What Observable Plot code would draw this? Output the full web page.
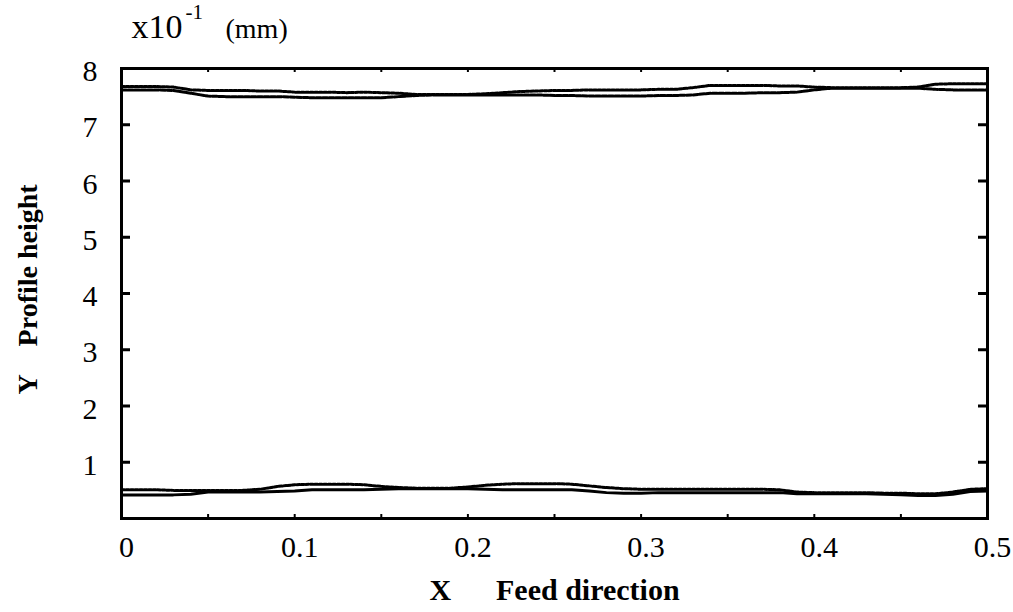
<!DOCTYPE html>
<html><head><meta charset="utf-8">
<script src="https://cdn.jsdelivr.net/npm/d3@7"></script>
<script src="https://cdn.jsdelivr.net/npm/@observablehq/plot@0.6"></script>
<style>
body{margin:0;background:#fff}
svg{background:#fff}
#chart svg text{font-family:"Liberation Serif","Times New Roman",serif !important;}
</style>
</head><body><div id="chart"></div>
<script>
// Feed direction sample positions (x, mm)
const xFeed = [0.00,0.01,0.02,0.03,0.04,0.05,0.06,0.07,0.08,0.09,
  0.10,0.11,0.12,0.13,0.14,0.15,0.16,0.17,0.18,0.19,
  0.20,0.21,0.22,0.23,0.24,0.25,0.26,0.27,0.28,0.29,
  0.30,0.31,0.32,0.33,0.34,0.35,0.36,0.37,0.38,0.39,
  0.40,0.41,0.42,0.43,0.44,0.45,0.46,0.47,0.48,0.49,0.50];

// Upper surface profiles (x10^-1 mm)
const topUpper = [7.68,7.68,7.68,7.67,7.62,7.61,7.61,7.61,7.60,7.60,
  7.58,7.58,7.58,7.57,7.58,7.57,7.56,7.54,7.54,7.54,
  7.54,7.55,7.57,7.59,7.60,7.61,7.61,7.62,7.62,7.62,
  7.62,7.63,7.63,7.66,7.70,7.70,7.70,7.70,7.69,7.69,
  7.67,7.66,7.66,7.66,7.66,7.66,7.67,7.72,7.73,7.73,7.73];
const topLower = [7.62,7.62,7.62,7.61,7.56,7.51,7.50,7.50,7.50,7.50,
  7.49,7.48,7.48,7.48,7.48,7.48,7.50,7.52,7.53,7.53,
  7.53,7.53,7.53,7.53,7.53,7.52,7.52,7.51,7.51,7.51,
  7.51,7.52,7.52,7.53,7.56,7.56,7.56,7.57,7.57,7.58,
  7.62,7.65,7.65,7.65,7.65,7.65,7.65,7.63,7.62,7.62,7.62];

// Lower surface profiles (x10^-1 mm)
const bottomUpper = [0.51,0.51,0.51,0.50,0.50,0.50,0.50,0.50,0.52,0.57,
  0.60,0.61,0.61,0.61,0.60,0.57,0.55,0.54,0.54,0.54,
  0.56,0.59,0.61,0.62,0.62,0.62,0.61,0.58,0.55,0.53,
  0.52,0.52,0.52,0.52,0.52,0.52,0.52,0.52,0.51,0.47,
  0.46,0.46,0.46,0.46,0.45,0.45,0.44,0.44,0.47,0.52,0.53];
const bottomLower = [0.42,0.42,0.42,0.42,0.43,0.47,0.47,0.47,0.47,0.48,
  0.49,0.51,0.51,0.51,0.51,0.52,0.53,0.53,0.53,0.53,
  0.53,0.52,0.51,0.51,0.51,0.51,0.51,0.49,0.46,0.45,
  0.45,0.46,0.46,0.46,0.46,0.46,0.46,0.46,0.46,0.44,
  0.44,0.44,0.44,0.44,0.43,0.42,0.41,0.41,0.43,0.48,0.49];

// Axis ticks and labels
const xMinorTicks = [0.05,0.10,0.15,0.20,0.25,0.30,0.35,0.40,0.45];
const xTickLabels = [0,0.1,0.2,0.3,0.4,0.5];
const yInnerTicks = [1,2,3,4,5,6,7];
const yTickLabels = [1,2,3,4,5,6,7,8];

const seriesNames = ["topUpper","topLower","bottomUpper","bottomLower"];
const seriesValues = {topUpper, topLower, bottomUpper, bottomLower};
const seriesDash = {topUpper:"3,1.5", topLower:"5,1.5", bottomUpper:"3,1.5", bottomLower:null};

const rows = seriesNames.flatMap(name =>
  xFeed.map((x, i) => ({series: name, x, y: seriesValues[name][i]})));

const W = 1013, H = 612;
const mL = 121, mR = 26, mT = 68, mB = 94;
const frameW = W - mL - mR, frameH = H - mT - mB;
const FONT = "Liberation Serif";

const lineMarks = seriesNames.map(name =>
  Plot.line(rows.filter(d => d.series === name), {
    x: "x", y: "y", stroke: "black",
    strokeWidth: 3,
    strokeDasharray: seriesDash[name] || undefined
  }));

const chart = Plot.plot({
  width: W, height: H,
  marginLeft: mL, marginRight: mR, marginTop: mT, marginBottom: mB,
  style: {fontFamily: FONT, color: "black", background: "white"},
  x: {domain: [0, 0.5]},
  y: {domain: [0, 8]},
  marks: [
    ...lineMarks,
    // inward ticks
    Plot.tickX(xMinorTicks, {x: d => d, insetTop: frameH - 4, stroke: "black", strokeWidth: 2}),
    Plot.tickX(xMinorTicks, {x: d => d, insetBottom: frameH - 4, stroke: "black", strokeWidth: 2}),
    Plot.tickY(yInnerTicks, {y: d => d, insetRight: frameW - 9, stroke: "black", strokeWidth: 3}),
    Plot.tickY(yInnerTicks, {y: d => d, insetLeft: frameW - 9, stroke: "black", strokeWidth: 3}),
    Plot.frame({stroke: "black", strokeWidth: 3}),
    // tick labels
    Plot.axisX({ticks: xTickLabels, tickSize: 0, tickPadding: 17, fontSize: 30, dx: 5,
      tickFormat: d => String(d), label: null, fontFamily: FONT}),
    Plot.axisY({ticks: yTickLabels, tickSize: 0, tickPadding: 24, fontSize: 30, dy: 3,
      tickFormat: d => String(d), label: null, fontFamily: FONT}),
    // unit header
    Plot.text(["x10"], {text: d => d, frameAnchor: "top-left", textAnchor: "start", lineAnchor: "bottom",
      dx: 10, dy: -31, fontSize: 34, fontFamily: FONT}),
    Plot.text(["-1"], {text: d => d, frameAnchor: "top-left", textAnchor: "start", lineAnchor: "bottom",
      dx: 64, dy: -50, fontSize: 21, fontFamily: FONT}),
    Plot.text(["(mm)"], {text: d => d, frameAnchor: "top-left", textAnchor: "start", lineAnchor: "bottom",
      dx: 104, dy: -31, fontSize: 28, fontFamily: FONT}),
    // axis titles
    Plot.text(["Y\u00a0\u00a0\u00a0\u00a0Profile height"], {text: d => d, frameAnchor: "left", rotate: -90,
      dx: -93, dy: -4, fontSize: 28, fontWeight: "bold", textAnchor: "middle", lineAnchor: "middle", fontFamily: FONT}),
    Plot.text(["X\u00a0\u00a0\u00a0\u00a0\u00a0\u00a0Feed direction"], {text: d => d, frameAnchor: "bottom",
      dy: 72, fontSize: 30, fontWeight: "bold", textAnchor: "middle", lineAnchor: "middle", fontFamily: FONT})
  ]
});
document.getElementById("chart").appendChild(chart);
</script>
</body></html>
